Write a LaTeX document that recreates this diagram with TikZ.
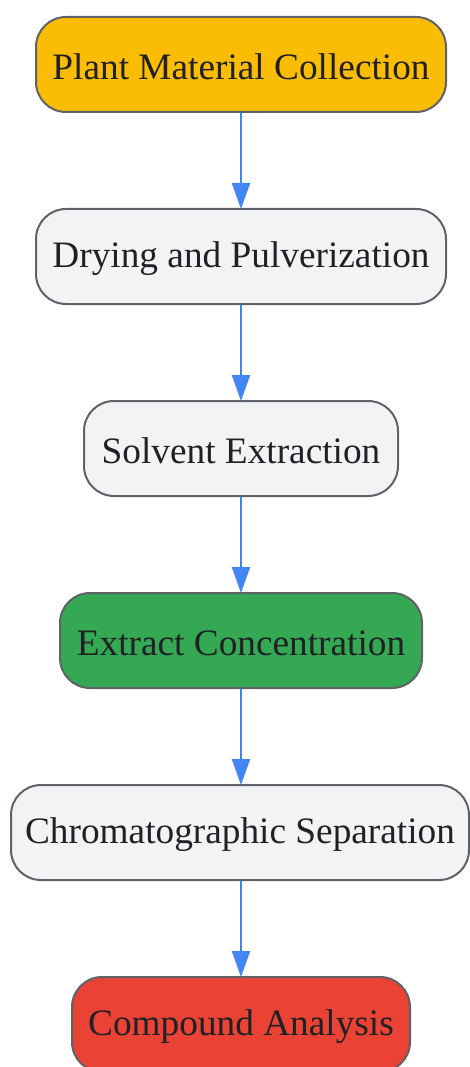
\documentclass[tikz,border=0pt]{standalone}
\usepackage{fontspec}
\setmainfont{Liberation Serif}
\usetikzlibrary{arrows.meta}
\definecolor{cyel}{HTML}{FBBC04}
\definecolor{cgray}{HTML}{F1F3F4}
\definecolor{cgreen}{HTML}{34A853}
\definecolor{cred}{HTML}{EA4335}
\definecolor{cstroke}{HTML}{5F6368}
\definecolor{ctext}{HTML}{202124}
\definecolor{carrow}{HTML}{4285F4}
\begin{document}
\begin{tikzpicture}[x=1pt,y=-1pt,
  box/.style={draw=cstroke, line width=2pt, rounded corners=30pt, minimum height=95pt, inner sep=0pt},
  txt/.style={inner sep=0pt, text=ctext, font=\fontsize{37.3}{42}\selectfont, yshift=-2.5pt},
  conn/.style={draw=carrow, line width=2.2pt, -{Triangle[length=26pt,width=18pt]}, shorten >=-1pt}]
\useasboundingbox (0,0) rectangle (470,1067);
\node[box, fill=cyel, minimum width=410pt] (n1) at (241,64.5) {};
\node[box, fill=cgray, minimum width=410pt] (n2) at (241,256.5) {};
\node[box, fill=cgray, minimum width=314pt] (n3) at (241,448.5) {};
\node[box, fill=cgreen, minimum width=362pt] (n4) at (241,640.5) {};
\node[box, fill=cgray, minimum width=458pt] (n5) at (240,832.5) {};
\node[box, fill=cred, minimum width=338pt] (n6) at (241,1024.5) {};
\node[txt] (t1) at (n1.center) {Plant Material Collection};
\node[txt] (t2) at (n2.center) {Drying and Pulverization};
\node[txt] (t3) at (n3.center) {Solvent Extraction};
\node[txt] (t4) at (n4.center) {Extract Concentration};
\node[txt] (t5) at (n5.center) {Chromatographic Separation};
\node[txt] (t6) at (n6.center) {Compound Analysis};
\draw[conn] (n1.south) -- (n1.south |- n2.north);
\draw[conn] (n2.south) -- (n2.south |- n3.north);
\draw[conn] (n3.south) -- (n3.south |- n4.north);
\draw[conn] (n4.south) -- (n4.south |- n5.north);
\draw[conn] (n4.south |- n5.south) -- (n4.south |- n6.north);
\end{tikzpicture}
\end{document}
